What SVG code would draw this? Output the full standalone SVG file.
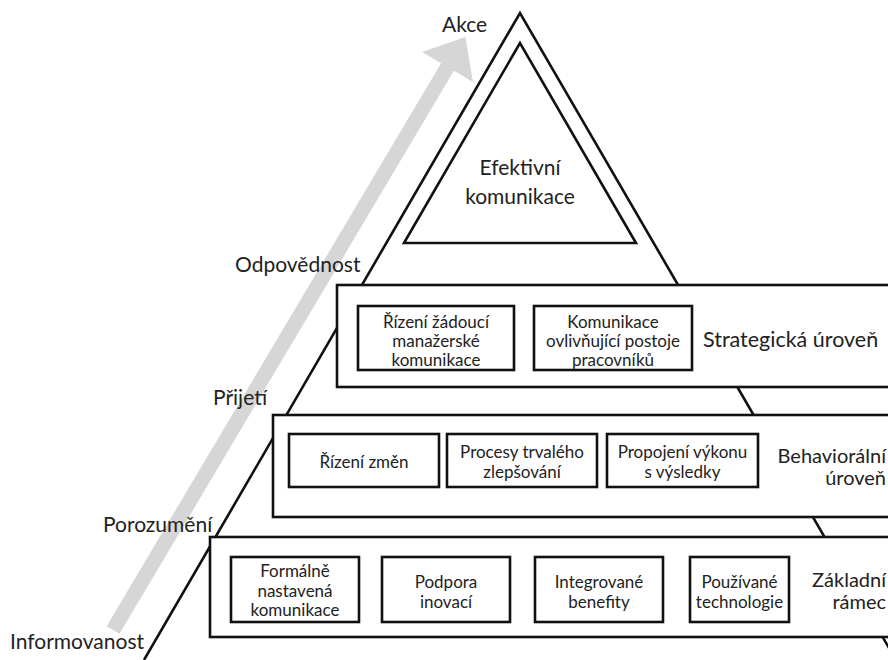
<svg xmlns="http://www.w3.org/2000/svg" width="888" height="660" viewBox="0 0 888 660">
<style>
  .ln{fill:none;stroke:#111;stroke-width:2.6;stroke-linejoin:miter}
  .band{fill:#fff;stroke:#111;stroke-width:2.6}
  .box{fill:#fff;stroke:#111;stroke-width:2.6}
  text{font-family:Lato,"Liberation Sans",sans-serif;fill:#222}
  .bt{font-size:17px;text-anchor:middle}
  .lbl{font-size:21px}
  .rl{font-size:20px}
  .re{font-size:20px;text-anchor:end}
  .ct{font-size:21px;text-anchor:middle}
</style>
<rect width="888" height="660" fill="#fff"/>
<g id="progress-arrow">
  <polygon points="106.6,626.2 441.1,63.2 422.1,52 465.4,36.9 472.9,82 453.9,70.8 119.5,633.8" fill="#d6d6d6"/>
</g>
<g id="pyramid">
  <polyline class="ln" points="144,660 520,13 896,660"/>
</g>
<g id="top">
  <polygon class="ln" points="520,43 404,243 636,243"/>
  <text class="ct" x="520" y="175">Efektivní</text>
  <text class="ct" x="520" y="204">komunikace</text>
</g>
<g id="strategic">
  <rect class="band" x="337" y="285" width="570" height="102"/>
  <text class="rl" x="703" y="347" style="font-size:21.5px">Strategická úroveň</text>
</g>
<g id="s1">
  <rect class="box" x="358" y="306" width="156" height="64"/>
  <text class="bt" x="436" y="328">Řízení žádoucí</text>
  <text class="bt" x="436" y="347">manažerské</text>
  <text class="bt" x="436" y="366">komunikace</text>
</g>
<g id="s2">
  <rect class="box" x="534" y="306" width="158" height="64"/>
  <text class="bt" x="613" y="328">Komunikace</text>
  <text class="bt" x="613" y="347">ovlivňující postoje</text>
  <text class="bt" x="613" y="366">pracovníků</text>
</g>
<g id="behavioral">
  <rect class="band" x="273" y="415" width="640" height="102"/>
  <text class="re" x="886" y="463">Behaviorální</text>
  <text class="re" x="886" y="485">úroveň</text>
</g>
<g id="b1">
  <rect class="box" x="289" y="434" width="150" height="53"/>
  <text class="bt" x="364" y="468">Řízení změn</text>
</g>
<g id="b2">
  <rect class="box" x="447" y="434" width="150" height="53"/>
  <text class="bt" x="522" y="458">Procesy trvalého</text>
  <text class="bt" x="522" y="478">zlepšování</text>
</g>
<g id="b3">
  <rect class="box" x="607" y="434" width="151" height="53"/>
  <text class="bt" x="682.5" y="458">Propojení výkonu</text>
  <text class="bt" x="682.5" y="478">s výsledky</text>
</g>
<g id="base">
  <rect class="band" x="210" y="537" width="700" height="100"/>
  <text class="re" x="886" y="587">Základní</text>
  <text class="re" x="886" y="609">rámec</text>
</g>
<g id="f1">
  <rect class="box" x="231" y="557" width="128" height="65"/>
  <text class="bt" x="295" y="577">Formálně</text>
  <text class="bt" x="295" y="597">nastavená</text>
  <text class="bt" x="295" y="616">komunikace</text>
</g>
<g id="f2">
  <rect class="box" x="382" y="557" width="128" height="65"/>
  <text class="bt" x="446" y="588">Podpora</text>
  <text class="bt" x="446" y="608">inovací</text>
</g>
<g id="f3">
  <rect class="box" x="535" y="557" width="128" height="65"/>
  <text class="bt" x="599" y="588">Integrované</text>
  <text class="bt" x="599" y="608">benefity</text>
</g>
<g id="f4">
  <rect class="box" x="690" y="557" width="99" height="65"/>
  <text class="bt" x="739.5" y="588">Používané</text>
  <text class="bt" x="739.5" y="608">technologie</text>
</g>
<g id="levels">
  <text class="lbl" x="442" y="32">Akce</text>
  <text class="lbl" x="235" y="272">Odpovědnost</text>
  <text class="lbl" x="213" y="405">Přijetí</text>
  <text class="lbl" x="103" y="532">Porozumění</text>
  <text class="lbl" x="10" y="649">Informovanost</text>
</g>
</svg>
